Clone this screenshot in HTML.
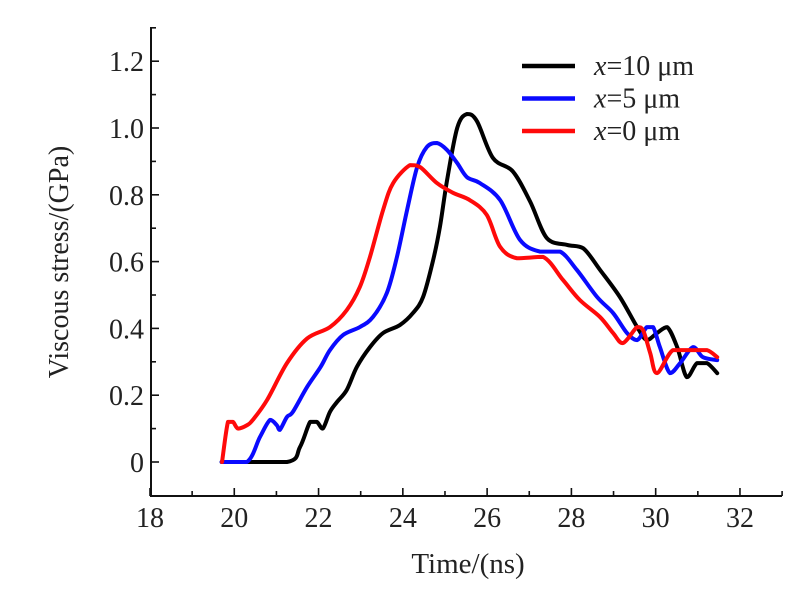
<!DOCTYPE html>
<html><head><meta charset="utf-8"><style>
body{margin:0;background:#fff;width:811px;height:599px;overflow:hidden}
svg text{font-family:"Liberation Serif",serif;fill:#222}
</style></head><body>
<svg id="chart" width="811" height="599" viewBox="0 0 811 599" xmlns="http://www.w3.org/2000/svg"></svg>
<script>
const xTicks=[18,20,22,24,26,28,30,32];
const yTicks=[0,0.2,0.4,0.6,0.8,1.0,1.2];
const yTickLabels=["0","0.2","0.4","0.6","0.8","1.0","1.2"];
const seriesNames=["x=10 μm","x=5 μm","x=0 μm"];
const tBlack=[19.7,21.25,21.56,21.80,21.96,22.10,22.27,22.44,22.67,22.91,23.22,23.53,23.93,24.24,24.48,24.72,24.88,25.05,25.29,25.52,25.76,26.14,26.61,27.02,27.42,27.90,28.28,28.68,29.15,29.56,29.79,30.03,30.27,30.51,30.74,30.98,31.22,31.46];
const vBlack=[0,0,0.045,0.12,0.12,0.10,0.15,0.18,0.216,0.285,0.344,0.386,0.41,0.446,0.494,0.605,0.704,0.844,1.0,1.042,1.02,0.91,0.87,0.78,0.67,0.65,0.64,0.575,0.494,0.404,0.365,0.386,0.404,0.344,0.254,0.296,0.296,0.266];
const tBlue=[19.7,20.30,20.61,20.85,21.01,21.08,21.25,21.39,21.73,22.05,22.27,22.58,22.98,23.29,23.62,23.86,24.10,24.34,24.57,24.81,25.05,25.29,25.52,25.83,26.31,26.78,27.25,27.73,28.13,28.61,28.99,29.32,29.56,29.79,29.94,30.10,30.34,30.58,30.89,31.12,31.46];
const vBlue=[0,0,0.075,0.126,0.11,0.096,0.135,0.15,0.225,0.285,0.335,0.38,0.404,0.434,0.506,0.614,0.754,0.883,0.943,0.955,0.934,0.895,0.853,0.835,0.784,0.665,0.63,0.63,0.575,0.494,0.446,0.386,0.365,0.404,0.404,0.344,0.266,0.296,0.344,0.314,0.305];
const tRed=[19.71,19.85,19.97,20.09,20.30,20.44,20.78,21.25,21.73,22.27,22.67,22.98,23.22,23.53,23.77,24.17,24.41,24.81,25.19,25.59,25.99,26.31,26.71,27.33,27.80,28.20,28.68,28.99,29.22,29.56,29.70,29.87,30.03,30.41,30.89,31.22,31.46];
const vRed=[0,0.12,0.12,0.10,0.11,0.126,0.186,0.296,0.37,0.404,0.455,0.524,0.614,0.754,0.835,0.889,0.883,0.835,0.806,0.784,0.74,0.644,0.61,0.614,0.545,0.485,0.434,0.386,0.356,0.404,0.395,0.326,0.266,0.335,0.335,0.335,0.314];

const svg=document.getElementById('chart');
const NS='http://www.w3.org/2000/svg';
const X0=151,X1=782,Y0=496,YT=27;
const sx=t=>150+(t-18)*42.14;
const sy=v=>462-v*334;
function mk(tag,attrs,parent){const e=document.createElementNS(NS,tag);for(const k in attrs)e.setAttribute(k,attrs[k]);(parent||svg).appendChild(e);return e;}

const ax=mk('g',{});


mk('path',{d:`M${X0},${YT}V${Y0}H${X1}`,fill:'none',stroke:'#111','stroke-width':2},ax);
for(let t=18;t<=33;t++){const x=sx(t);const major=t%2===0;
 mk('line',{x1:x,x2:x,y1:Y0,y2:Y0-(major?8:5),stroke:'#111','stroke-width':1.6},ax);}
for(let i=-1;i<=13;i++){const v=i/10;const y=sy(v);if(y>Y0-2||y<YT)continue;
 mk('line',{x1:X0,x2:X0+(i%2===0?8:5),y1:y,y2:y,stroke:'#111','stroke-width':1.6},ax);}
xTicks.forEach(t=>{const e=mk('text',{x:sx(t),y:527,'text-anchor':'middle','font-size':28},ax);e.textContent=t;
 
 });
yTicks.forEach((v,i)=>{const e=mk('text',{x:X0-7,y:sy(v)+10,'text-anchor':'end','font-size':28},ax);e.textContent=yTickLabels[i];
 
 });
const xt=mk('text',{x:468,y:573,'text-anchor':'middle','font-size':29},ax);xt.textContent='Time/(ns)';


const yt=mk('text',{x:0,y:0,'text-anchor':'middle','font-size':28,transform:'translate(68,262) rotate(-90)'},ax);yt.textContent='Viscous stress/(GPa)';



function clampY(y,a,b){return Math.min(Math.max(y,Math.min(a,b)),Math.max(a,b));}
function smooth(ts,vs){const p=ts.map((t,i)=>[sx(t),sy(vs[i])]);let d=`M${p[0][0]},${p[0][1]}`;
 for(let i=0;i<p.length-1;i++){const a=p[Math.max(0,i-1)],b=p[i],c=p[i+1],e=p[Math.min(p.length-1,i+2)];
  const c1=[b[0]+(c[0]-a[0])/6,clampY(b[1]+(c[1]-a[1])/6,b[1],c[1])],c2=[c[0]-(e[0]-b[0])/6,clampY(c[1]-(e[1]-b[1])/6,b[1],c[1])];
  d+=`C${c1[0]},${c1[1]} ${c2[0]},${c2[1]} ${c[0]},${c[1]}`;}return d;}
const series=[[tBlack,vBlack,'#000','series-x10'],[tBlue,vBlue,'#0a0aff','series-x5'],[tRed,vRed,'#ff0a0a','series-x0']];
series.forEach(s=>{const e=mk('path',{d:smooth(s[0],s[1]),fill:'none',stroke:s[2],'stroke-width':4,'stroke-linejoin':'round','stroke-linecap':'round'});
 
 });

const lg=mk('g',{});


seriesNames.forEach((n,i)=>{const y=66+i*32.5;
 const l=mk('line',{x1:522,x2:575,y1:y,y2:y,stroke:series[i][2],'stroke-width':4.5},lg);
 
 
 const t=mk('text',{x:594,y:y+9,'font-size':28},lg);
 
 
 const it=mk('tspan',{'font-style':'italic'},t);it.textContent='x';
 const rest=mk('tspan',{},t);rest.textContent=n.slice(1);});
</script>
</body></html>
